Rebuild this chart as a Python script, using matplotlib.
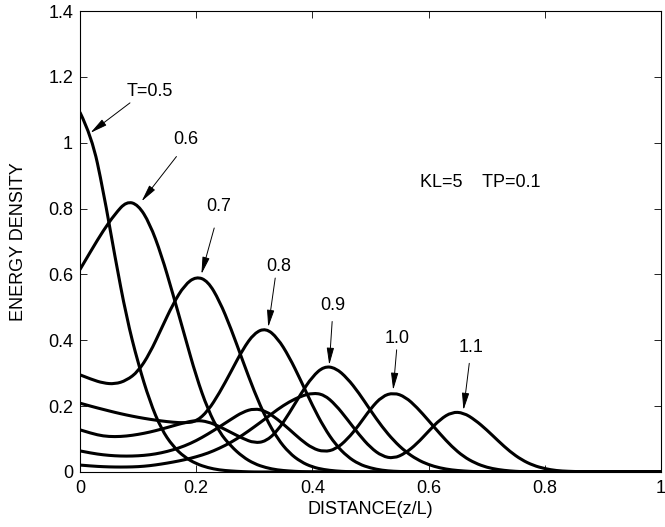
import numpy as np
import matplotlib.pyplot as plt
from matplotlib.path import Path
from matplotlib.patches import PathPatch

plt.rcParams['font.family'] = ['Liberation Sans', 'DejaVu Sans']
plt.rcParams['font.size'] = 13

# distance along the line, z/L
distance = [0.00, 0.02, 0.04, 0.06, 0.08, 0.10, 0.12, 0.14, 0.16, 0.18,
            0.20, 0.22, 0.24, 0.26, 0.28, 0.30, 0.32, 0.34, 0.36, 0.38,
            0.40, 0.42, 0.44, 0.46, 0.48, 0.50, 0.52, 0.54, 0.56, 0.58,
            0.60, 0.62, 0.64, 0.66, 0.68, 0.70, 0.72, 0.74, 0.76, 0.78,
            0.80, 0.82, 0.84, 0.86, 0.88, 0.90, 1.00]

# energy density at each time T (trailing values are zero)
e_05 = [1.092, 1.020, 0.855, 0.655, 0.470, 0.330, 0.215, 0.130, 0.078, 0.045,
        0.025, 0.013, 0.006, 0.003, 0.001]
e_06 = [0.615, 0.675, 0.733, 0.783, 0.822, 0.812, 0.755, 0.660, 0.540, 0.415,
        0.290, 0.190, 0.120, 0.078, 0.046, 0.025, 0.013, 0.006, 0.003, 0.001]
e_07 = [0.295, 0.281, 0.270, 0.267, 0.278, 0.305, 0.360, 0.435, 0.510, 0.568,
        0.594, 0.580, 0.520, 0.435, 0.338, 0.244, 0.163, 0.101, 0.058, 0.031,
        0.015, 0.007, 0.003, 0.001]
e_08 = [0.209, 0.199, 0.190, 0.181, 0.173, 0.166, 0.160, 0.155, 0.151, 0.149,
        0.153, 0.185, 0.240, 0.305, 0.372, 0.422, 0.437, 0.407, 0.350, 0.278,
        0.202, 0.135, 0.083, 0.047, 0.024, 0.012, 0.005, 0.002, 0.001]
e_09 = [0.128, 0.117, 0.109, 0.107, 0.109, 0.114, 0.121, 0.130, 0.140, 0.150,
        0.157, 0.153, 0.138, 0.120, 0.102, 0.088, 0.093, 0.125, 0.178, 0.237,
        0.290, 0.321, 0.316, 0.285, 0.240, 0.187, 0.137, 0.095, 0.062, 0.038,
        0.022, 0.012, 0.006, 0.003, 0.001]
e_10 = [0.064, 0.057, 0.052, 0.049, 0.048, 0.049, 0.052, 0.058, 0.067, 0.079,
        0.095, 0.115, 0.137, 0.160, 0.182, 0.193, 0.185, 0.160, 0.130, 0.098,
        0.072, 0.061, 0.069, 0.099, 0.142, 0.192, 0.230, 0.241, 0.228, 0.196,
        0.156, 0.115, 0.077, 0.047, 0.027, 0.014, 0.007, 0.003, 0.001]
e_11 = [0.021, 0.018, 0.016, 0.015, 0.015, 0.016, 0.019, 0.024, 0.030, 0.037,
        0.046, 0.057, 0.072, 0.090, 0.112, 0.137, 0.163, 0.190, 0.213, 0.230,
        0.240, 0.235, 0.204, 0.160, 0.114, 0.074, 0.048, 0.041, 0.057, 0.086,
        0.124, 0.160, 0.182, 0.180, 0.158, 0.128, 0.094, 0.062, 0.037, 0.020,
        0.010, 0.004, 0.002, 0.001]

curves = [e_05, e_06, e_07, e_08, e_09, e_10, e_11]
labels = ['T=0.5', '0.6', '0.7', '0.8', '0.9', '1.0', '1.1']


def smooth_path(xs, ys):
    # quadratic B-spline: samples are control points, drawn as Bezier pieces
    pts = np.column_stack([xs, ys])
    verts = [pts[0]]
    codes = [Path.MOVETO]
    for i in range(1, len(pts) - 1):
        verts += [pts[i], (pts[i] + pts[i + 1]) / 2]
        codes += [Path.CURVE3, Path.CURVE3]
    verts.append(pts[-1])
    codes.append(Path.LINETO)
    return Path(verts, codes)


fig = plt.figure(figsize=(6.65, 5.27), dpi=100)
ax = fig.add_axes([0.1203, 0.1044, 0.8737, 0.8747])

for e in curves:
    y = np.zeros(len(distance))
    y[:len(e)] = e
    ax.add_patch(PathPatch(smooth_path(distance, y), facecolor='none',
                           edgecolor='k', lw=2.2, capstyle='round',
                           joinstyle='round'))

# label text position, arrow tail, arrow head
notes = [((0.1205, 1.157), (0.086, 1.121), (0.018, 1.030)),
         ((0.1816, 1.009), (0.166, 0.958), (0.106, 0.822)),
         ((0.2390, 0.807), (0.231, 0.741), (0.209, 0.601)),
         ((0.3413, 0.624), (0.336, 0.589), (0.324, 0.440)),
         ((0.4346, 0.505), (0.434, 0.457), (0.429, 0.325)),
         ((0.5465, 0.404), (0.545, 0.371), (0.539, 0.249)),
         ((0.6726, 0.378), (0.670, 0.330), (0.660, 0.188))]
for lab, (txy, tail, head) in zip(labels, notes):
    ax.text(*txy, lab, ha='center', va='center')
    ax.annotate('', xy=head, xytext=tail,
                arrowprops=dict(arrowstyle='-|>,head_length=0.8,head_width=0.17',
                                color='k', lw=0.7, shrinkA=0, shrinkB=0))

ax.text(0.585, 0.878, 'KL=5    TP=0.1', ha='left', va='center')

ax.set_xlim(0, 1)
ax.set_ylim(0, 1.4)
ax.set_xticks([0, 0.2, 0.4, 0.6, 0.8, 1])
ax.set_xticklabels(['0', '0.2', '0.4', '0.6', '0.8', '1'])
ax.set_yticks([0, 0.2, 0.4, 0.6, 0.8, 1, 1.2, 1.4])
ax.set_yticklabels(['0', '0.2', '0.4', '0.6', '0.8', '1', '1.2', '1.4'])
ax.tick_params(direction='in', top=True, right=True, length=5, width=0.6,
               labelsize=13)
ax.tick_params(axis='x', pad=6)
ax.tick_params(axis='y', pad=5)
for s in ax.spines.values():
    s.set_linewidth(0.8)

ax.set_xlabel('DISTANCE(z/L)', fontsize=13)
ax.set_ylabel('ENERGY DENSITY', fontsize=13)
ax.xaxis.set_label_coords(0.5, -0.062)
ax.yaxis.set_label_coords(-0.092, 0.5)

fig.savefig('out.png', dpi=100)
